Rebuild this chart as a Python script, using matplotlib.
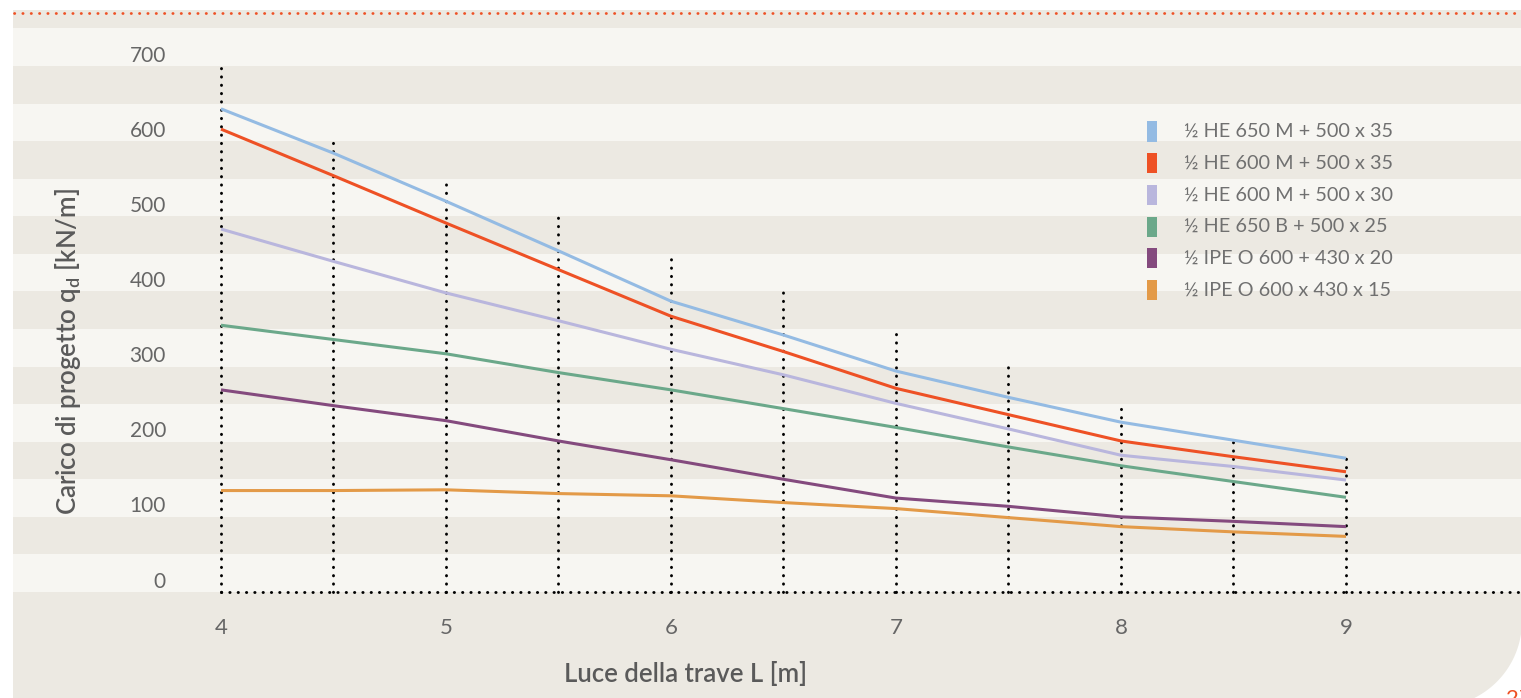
import numpy as np
import matplotlib
matplotlib.use("Agg")
import matplotlib.pyplot as plt
from matplotlib.patches import Rectangle, Polygon
from matplotlib.lines import Line2D

plt.rcParams['font.family'] = ['Lato', 'DejaVu Sans']
plt.rcParams['mathtext.default'] = 'regular'

# ---- data -------------------------------------------------------------
span = [4.0, 4.5, 5.0, 5.5, 6.0, 6.5, 7.0, 7.5, 8.0, 8.5, 9.0]

he650m_500x35 = [643, 584, 520, 454, 387, 342, 294, 259, 226, 202, 178]
he600m_500x35 = [616, 554, 491, 429, 367, 320, 271, 236, 201, 180, 160]
he600m_500x30 = [483, 440, 398, 361, 323, 289, 251, 217, 182, 167, 149]
he650b_500x25 = [355, 336, 317, 292, 269, 244, 219, 193, 168, 147, 126]
ipe600_430x20 = [269, 248, 228, 201, 176, 150, 125, 114, 100, 94, 87]
ipe600_430x15 = [135, 135, 136, 131, 128, 119, 111, 99, 87, 80, 74]

series_labels = [
    "½ HE 650 M + 500 x 35",
    "½ HE 600 M + 500 x 35",
    "½ HE 600 M + 500 x 30",
    "½ HE 650 B + 500 x 25",
    "½ IPE O 600 + 430 x 20",
    "½ IPE O 600 x 430 x 15",
]
series_values = [he650m_500x35, he600m_500x35, he600m_500x30,
                 he650b_500x25, ipe600_430x20, ipe600_430x15]
series_colors = ["#94BBE3", "#EE5125", "#B9B6DD", "#6BA88A", "#844A7E", "#E39A48"]

# dotted guide heights above each span value
guide_top = [700, 600, 550, 500, 450, 400, 350, 300, 250, 200, 180]

x_ticks = [4, 5, 6, 7, 8, 9]
y_ticks = [0, 100, 200, 300, 400, 500, 600, 700]

# ---- figure geometry (pixels) -----------------------------------------
W, H = 1521, 698
X0_PX, X_UNIT = 221.0, 225.0        # pixel of x=4, pixels per metre
Y0_PX, Y_UNIT = 592.0, 526.0 / 700  # pixel of q=0, pixels per kN/m
LEFT_PX, TOP_PX = 13.0, 10.0


def px2x(px):
    return 4 + (px - X0_PX) / X_UNIT


def px2y(py):
    return (Y0_PX - py) / Y_UNIT


def fig_xy(px, py):
    return px / W, 1 - py / H


BAND_DARK = "#ECE9E2"
BAND_LIGHT = "#F7F6F2"
TICK_GREY = "#666666"
LABEL_GREY = "#5A5A5A"

fig = plt.figure(figsize=(W / 100, H / 100), dpi=100)
fig.patch.set_facecolor("white")
ax = fig.add_axes([LEFT_PX / W, 0, 1 - LEFT_PX / W, 1 - TOP_PX / H])
ax.set_xlim(px2x(LEFT_PX), px2x(W))
ax.set_ylim(px2y(H), px2y(TOP_PX))
ax.axis("off")

# striped background, 50 kN/m per stripe
for lower in range(0, 800, 50):
    col = BAND_DARK if (lower // 50) % 2 == 1 else BAND_LIGHT
    ax.axhspan(lower, lower + 50, color=col, lw=0, zorder=0)
ax.axhspan(px2y(H) - 10, 0, color=BAND_DARK, lw=0, zorder=0)

# dotted guides
dot_style = dict(color="black", lw=2.1, linestyle=(0, (0.1, 2.75)),
                 dash_capstyle="round", zorder=2)
for xv, top in zip(span, guide_top):
    ax.plot([xv, xv], [0, top], **dot_style)
ax.plot([4, px2x(W)], [0, 0], **dot_style)

# load curves
for vals, col in zip(series_values, series_colors):
    ax.plot(span, vals, color=col, lw=2.2, solid_capstyle="butt",
            solid_joinstyle="round", zorder=3)

# tick labels
for yv in y_ticks:
    ax.annotate(str(yv), xy=(px2x(166), yv), xytext=(0, 7.5),
                textcoords="offset points", ha="right", va="center",
                fontsize=15, color=TICK_GREY, zorder=4)
for xv in x_ticks:
    ax.text(xv, px2y(628), str(xv), ha="center", va="center",
            fontsize=16, color=TICK_GREY, zorder=4)

# axis titles
ax.text(px2x(68), px2y(352), r"Carico di progetto q$_\mathregular{d}$ [kN/m]",
        rotation=90, ha="center", va="center", fontsize=18.5,
        fontweight="semibold", color=LABEL_GREY, zorder=4)
ax.text(px2x(686), px2y(675), "Luce della trave L [m]", ha="center",
        va="center", fontsize=18.5, fontweight="semibold", color=LABEL_GREY,
        zorder=4)

# legend
row0, row_step = 131.5, 31.7
for i, (lab, col) in enumerate(zip(series_labels, series_colors)):
    yc = row0 + i * row_step
    fx, fy = fig_xy(1147, yc + 10)
    fig.patches.append(Rectangle((fx, fy), 10 / W, 20 / H, transform=fig.transFigure,
                                 facecolor=col, edgecolor="none", zorder=5))
    tx, ty = fig_xy(1184, yc)
    fig.text(tx, ty, lab, ha="left", va="center", fontsize=14.3,
             color="#707070", zorder=5)

# orange dotted rule along the top
lx0, ly = fig_xy(LEFT_PX + 1, 12.5)
lx1, _ = fig_xy(W, 12.5)
fig.lines.append(Line2D([lx0, lx1], [ly, ly], transform=fig.transFigure,
                        color="#EE5125", lw=2.0, linestyle=(0, (0.1, 2.9)),
                        dash_capstyle="round", zorder=5))

# rounded bottom-right corner of the panel
cx, cy, r = 1436.0, 621.0, 86.0
theta = np.linspace(0, np.pi / 2, 60)
arc = [fig_xy(cx + r * np.cos(t), cy + r * np.sin(t)) for t in theta]
corner = arc + [fig_xy(cx, H + 20), fig_xy(W + 20, H + 20), fig_xy(W + 20, cy)]
fig.patches.append(Polygon(corner, closed=True, transform=fig.transFigure,
                           facecolor="white", edgecolor="none", zorder=6))

px, py = fig_xy(1506, 689)
fig.text(px, py, "27", ha="left", va="top", fontsize=16, color="#EE5125", zorder=7)

fig.savefig("out.png", dpi=100, facecolor=fig.get_facecolor())
